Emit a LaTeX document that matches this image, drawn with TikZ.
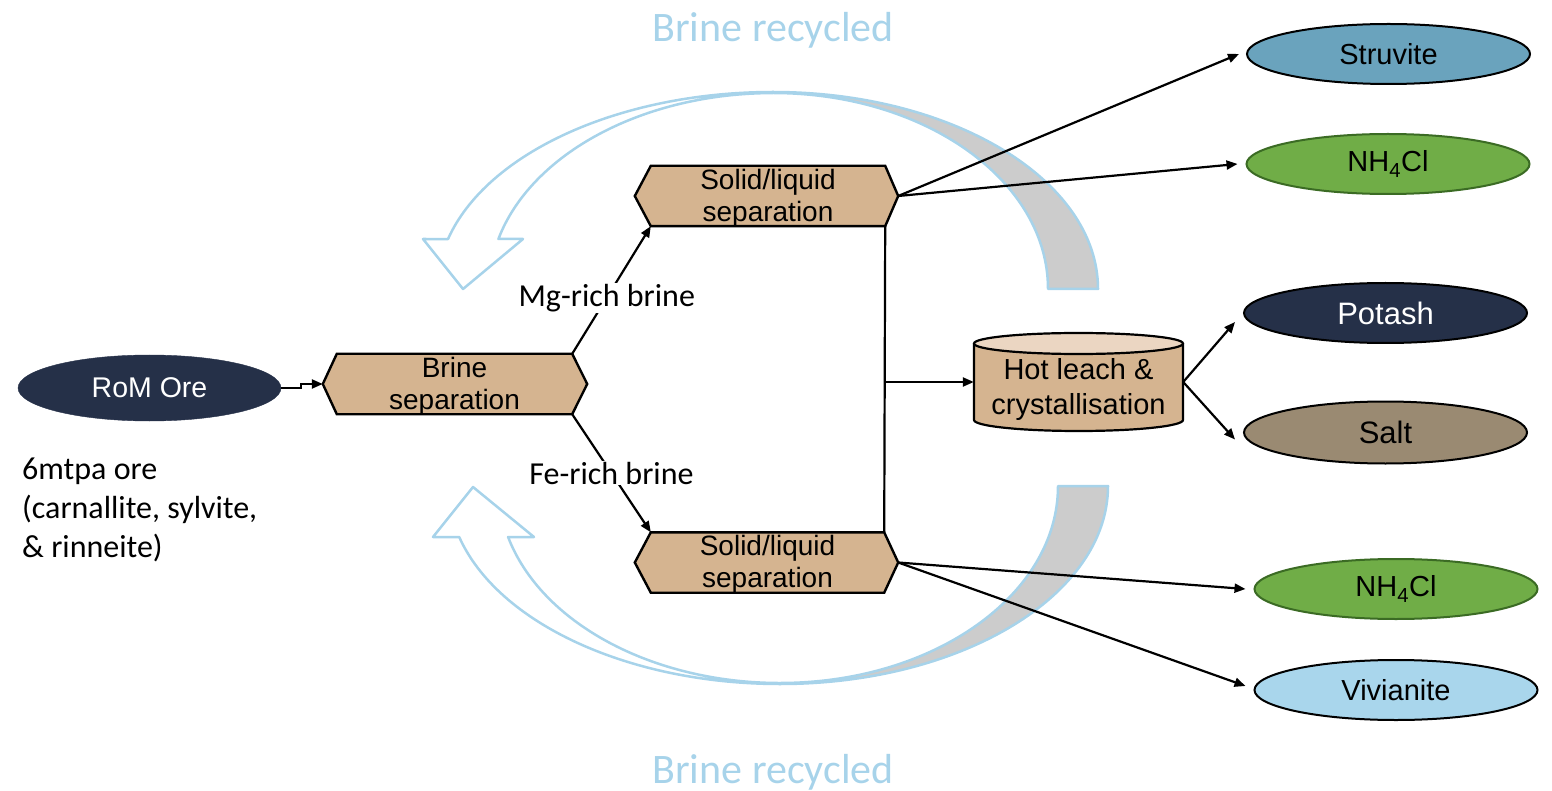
\documentclass[tikz,border=0pt]{standalone}
\usepackage{fontspec}
\setmainfont{Liberation Sans}
\newfontfamily\calib{Carlito}
\usetikzlibrary{arrows.meta,calc,backgrounds,shapes.geometric}
\definecolor{navy}{HTML}{253048}
\definecolor{tanfill}{HTML}{D5B490}
\definecolor{tantop}{HTML}{EBD6C2}
\definecolor{struv}{HTML}{6AA3BD}
\definecolor{nhgreen}{HTML}{70AD47}
\definecolor{nhedge}{HTML}{3B6B24}
\definecolor{saltc}{HTML}{9A8A72}
\definecolor{vivc}{HTML}{A9D6EC}
\definecolor{recblue}{HTML}{A7D3EA}
\definecolor{recgrey}{HTML}{CCCCCC}
\tikzset{
  hexbox/.style={minimum width=#1, minimum height=60, inner sep=0, align=center,
    font=\fontsize{28}{32}\selectfont},
  hexline/.style={fill=tanfill, draw=black, line width=2.4},
  outbox/.style={ellipse, draw=black, line width=2, minimum width=283,
    minimum height=60, inner sep=0, font=\fontsize{29}{32}\selectfont},
  conn/.style={draw=black, line width=2.2, -{Triangle[length=11,width=9]}},
  lbl/.style={fill=white, inner sep=1, font=\calib\fontsize{32}{36}\selectfont},
  recfront/.style={fill=white, draw=recblue, line width=2.5, line join=round},
  recback/.style={fill=recgrey, draw=recblue, line width=2.5, line join=round},
}
\newcommand\hexshape[3]{%
  \begin{scope}[on background layer]
    \filldraw[hexline] (#1.north west) -- (#1.north east) -- ($(#1.east)+(#3,0)$)
      -- (#1.south east) -- (#1.south west) -- ($(#1.west)+(-#2,0)$) -- cycle;
  \end{scope}}
\begin{document}
\begin{tikzpicture}[x=1pt,y=-1pt]
\useasboundingbox (0,0) rectangle (1552,791);

% recycle arrows
\filldraw[recback] (1098,289) arc[start angle=0,end angle=-90,x radius=325,y radius=197]
  -- (773,93) arc[start angle=-90,end angle=0,x radius=275,y radius=196] -- cycle;
\filldraw[recfront] (773,92) arc[start angle=-90,end angle=-165.3,x radius=336,y radius=197]
  -- (423,239) -- (463,289) -- (523,239) -- (498.4,239)
  arc[start angle=-165.2,end angle=-90,x radius=284,y radius=196] -- cycle;

\filldraw[recback] (1108,486) arc[start angle=0,end angle=90,x radius=328,y radius=198]
  -- (780,683) arc[start angle=90,end angle=0,x radius=278,y radius=197] -- cycle;
\filldraw[recfront] (780,684) arc[start angle=90,end angle=165.07,x radius=332,y radius=198]
  -- (433,537) -- (473,487) -- (534,537) -- (508.1,537)
  arc[start angle=165,end angle=90,x radius=281.5,y radius=197] -- cycle;

\node[font=\calib\fontsize{42}{44}\selectfont, text=recblue] (rtop) at (773,30) {Brine recycled};
\node[font=\calib\fontsize{42}{44}\selectfont, text=recblue] (rbot) at (773,772) {Brine recycled};

% input
\node[ellipse, fill=navy, draw=navy, minimum width=263, minimum height=66, inner sep=0,
  text=white, font=\fontsize{28.5}{32}\selectfont] (rom) at (149.5,388) {RoM Ore};
\node[anchor=west, align=left, inner sep=0, font=\calib\fontsize{32}{39}\selectfont] (ore)
  at (22,510) {6mtpa ore\\(carnallite, sylvite,\\\& rinneite)};

% process boxes
\node[hexbox=235] (bs) at (454.5,384) {};
\node[font=\fontsize{28}{32}\selectfont, align=center, inner sep=0] (bst) at (454.5,386) {Brine\\separation};
\hexshape{bs}{14}{15}
\node[hexbox=234] (t1) at (768,196) {};
\node[font=\fontsize{28}{32}\selectfont, align=center, inner sep=0] (t1t) at (768,198) {Solid/liquid\\separation};
\hexshape{t1}{16}{13}
\node[hexbox=233] (t2) at (767.5,562.5) {};
\node[font=\fontsize{28}{32}\selectfont, align=center, inner sep=0] (t2t) at (767.5,564.5) {Solid/liquid\\separation};
\hexshape{t2}{16}{14}

\node[minimum width=209, minimum height=98, inner sep=0] (cyl) at (1078.5,382) {};
\node[align=center, inner sep=0, font=\fontsize{29}{35}\selectfont] (cylt) at (1078.5,390)
  {Hot leach \&\\crystallisation};
\begin{scope}[on background layer]
  \fill[tanfill] (974,343.5) -- (974,420) arc[start angle=180,end angle=0,x radius=104.5,y radius=11]
    -- (1183,343.5) -- cycle;
  \draw[black, line width=2.2] (974,343.5) -- (974,420)
    arc[start angle=180,end angle=0,x radius=104.5,y radius=11] -- (1183,343.5);
  \filldraw[fill=tantop, draw=black, line width=2.2] (1078.5,343.5) ellipse[x radius=104.5, y radius=10.5];
\end{scope}

% outputs
\node[outbox, fill=struv] (str) at (1388.5,54) {Struvite};
\node[outbox, fill=nhgreen, draw=nhedge] (nh1) at (1388,164) {NH\textsubscript{4}Cl};
\node[outbox, fill=navy, text=white, font=\fontsize{31}{34}\selectfont] (pot) at (1385.5,313) {Potash};
\node[outbox, fill=saltc, font=\fontsize{31}{34}\selectfont, minimum height=62] (salt) at (1385.5,432.5) {Salt};
\node[outbox, fill=nhgreen, draw=nhedge] (nh2) at (1396,589) {NH\textsubscript{4}Cl};
\node[outbox, fill=vivc] (viv) at (1396,690) {Vivianite};

% connectors
\draw[conn] (rom.east) -- ++(20,0) |- ($(bs.west)+(-14,0)$);
\draw[conn] (bs.north east) -- node[lbl, pos=0.44] {Mg-rich brine} (t1.south west);
\draw[conn] (bs.south east) -- node[lbl, pos=0.5] {Fe-rich brine} (t2.north west);
\draw[line width=2.2] (t1.south east) -- (t2.north east);
\draw[conn] (t1.south east |- cyl.west) -- (cyl.west);
\draw[conn] ($(t1.east)+(13,0)$) -- ($(str.west)+(-7,0)$);
\draw[conn] ($(t1.east)+(13,0)$) -- ($(nh1.west)+(-8,0)$);
\draw[conn] (cyl.east) -- ($(pot.west)+(-8,9)$);
\draw[conn] (cyl.east) -- ($(salt.west)+(-8,7)$);
\draw[conn] ($(t2.east)+(14,0)$) -- ($(nh2.west)+(-8,0)$);
\draw[conn] ($(t2.east)+(14,0)$) -- ($(viv.west)+(-8,-4)$);
\end{tikzpicture}
\end{document}
